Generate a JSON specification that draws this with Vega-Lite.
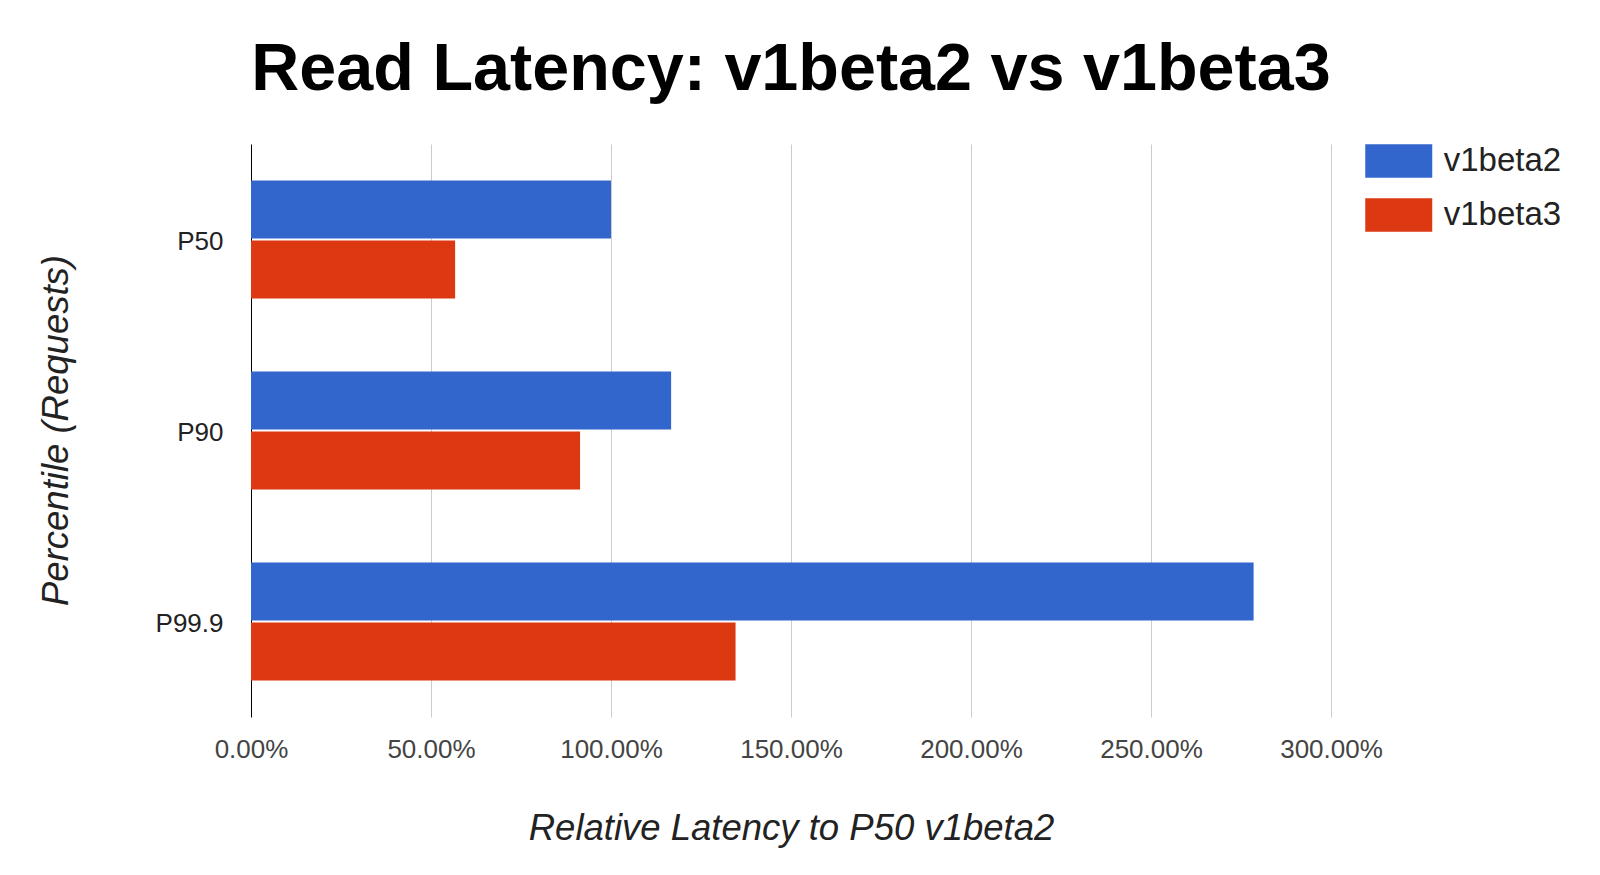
{
  "$schema": "https://vega.github.io/schema/vega-lite/v6.json",
  "autosize": {"type": "none"},
  "width": 1080,
  "height": 573,
  "padding": {"left": 251, "top": 144, "right": 269, "bottom": 158},
  "background": "white",
  "title": {
    "text": "Read Latency: v1beta2 vs v1beta3",
    "font": "Liberation Sans",
    "fontSize": 66.5,
    "fontWeight": "bold",
    "color": "#000000",
    "anchor": "middle",
    "frame": "group",
    "baseline": "alphabetic",
    "offset": -12
  },
  "data": {
    "values": [
      {"percentile": "P50", "version": "v1beta2", "latency": 1.0},
      {"percentile": "P50", "version": "v1beta3", "latency": 0.567},
      {"percentile": "P90", "version": "v1beta2", "latency": 1.167},
      {"percentile": "P90", "version": "v1beta3", "latency": 0.914},
      {"percentile": "P99.9", "version": "v1beta2", "latency": 2.785},
      {"percentile": "P99.9", "version": "v1beta3", "latency": 1.346}
    ]
  },
  "mark": {"type": "bar"},
  "encoding": {
    "y": {
      "field": "percentile",
      "type": "nominal",
      "sort": ["P50", "P90", "P99.9"],
      "scale": {"paddingInner": 0.382, "paddingOuter": 0.191},
      "axis": {
        "title": "Percentile (Requests)",
        "titleFont": "Liberation Sans",
        "titleFontSize": 36.5,
        "titleFontStyle": "italic",
        "titleFontWeight": "normal",
        "titleColor": "#222222",
        "titleAngle": 270,
        "titleX": -184,
        "titleY": 286,
        "titleAlign": "center",
        "titleBaseline": "alphabetic",
        "labelFont": "Liberation Sans",
        "labelFontSize": 26,
        "labelColor": "#222222",
        "labelPadding": 28,
        "labelOffset": 2,
        "ticks": false,
        "domain": true,
        "domainColor": "#000000",
        "domainWidth": 1,
        "grid": false
      }
    },
    "yOffset": {
      "field": "version",
      "type": "nominal",
      "sort": ["v1beta2", "v1beta3"],
      "scale": {"paddingInner": 0.03, "paddingOuter": 0}
    },
    "x": {
      "field": "latency",
      "type": "quantitative",
      "scale": {"domain": [0, 3], "nice": false},
      "axis": {
        "title": "Relative Latency to P50 v1beta2",
        "titleFont": "Liberation Sans",
        "titleFontSize": 36.5,
        "titleFontStyle": "italic",
        "titleFontWeight": "normal",
        "titleColor": "#222222",
        "titleY": 122,
        "titleBaseline": "alphabetic",
        "format": ".2%",
        "values": [0, 0.5, 1, 1.5, 2, 2.5, 3],
        "labelFont": "Liberation Sans",
        "labelFontSize": 26,
        "labelColor": "#444444",
        "labelPadding": 19,
        "labelFlush": false,
        "labelOverlap": false,
        "ticks": false,
        "domain": false,
        "grid": true,
        "gridColor": "#cccccc",
        "gridWidth": 1
      }
    },
    "color": {
      "field": "version",
      "type": "nominal",
      "sort": ["v1beta2", "v1beta3"],
      "scale": {"range": ["#3366cc", "#dc3912"]},
      "legend": {
        "title": null,
        "orient": "none",
        "legendX": 1130.75,
        "legendY": 0,
        "padding": 0,
        "symbolType": "M-2,-1H2V1H-2Z",
        "symbolSize": 1122,
        "symbolStrokeWidth": 0,
        "symbolOpacity": 1,
        "labelFont": "Liberation Sans",
        "labelFontSize": 33,
        "labelColor": "#222222",
        "labelOffset": 28,
        "rowPadding": 20
      }
    }
  },
  "config": {"view": {"stroke": null}}
}
